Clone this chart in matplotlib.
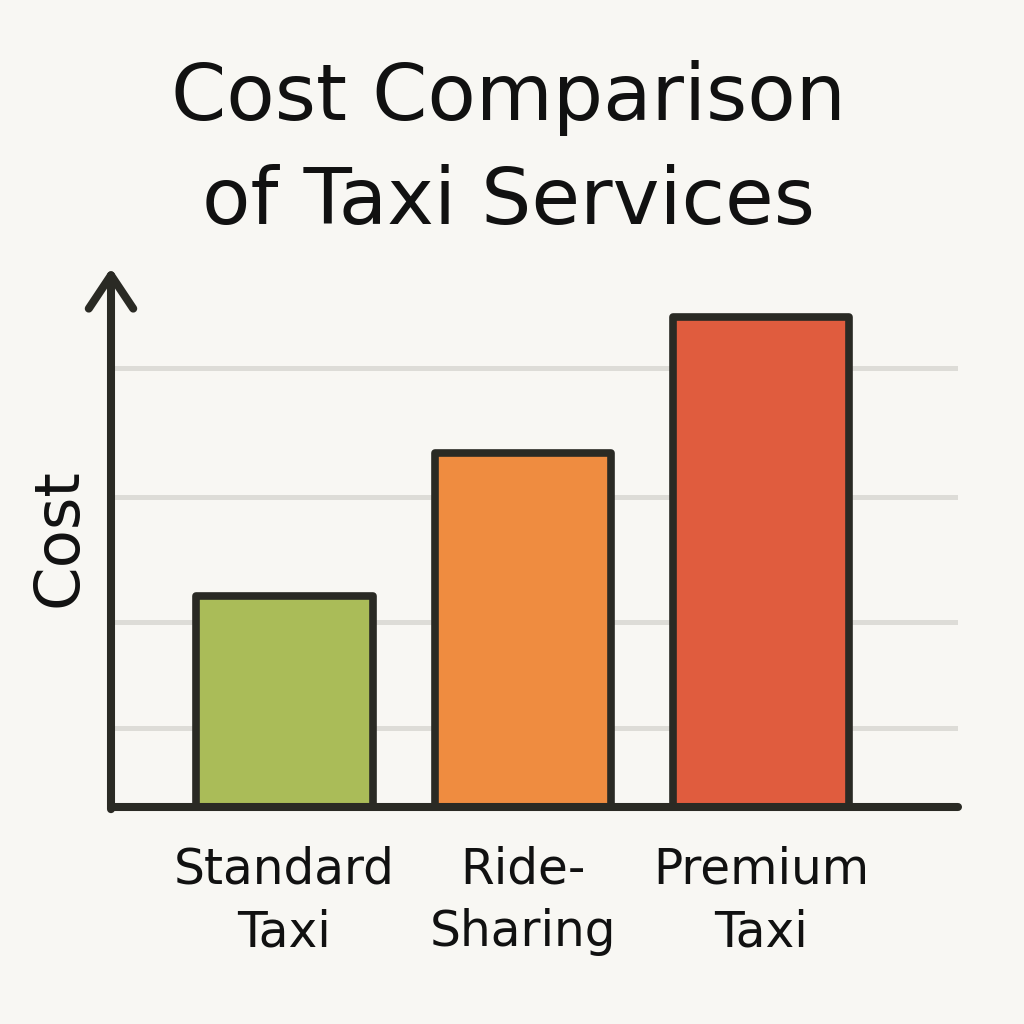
import matplotlib
matplotlib.use('Agg')
import matplotlib.pyplot as plt

# data (arbitrary cost units)
categories = ['Standard\nTaxi', 'Ride-\nSharing', 'Premium\nTaxi']
costs = [2.11, 3.54, 4.90]
grid_levels = [0.79, 1.85, 3.10, 4.39]
bar_colors = ['#aabc58', '#ef8c40', '#e05c3e']

bg = '#f8f7f3'
ink = '#2a2a24'

fig = plt.figure(figsize=(10.24, 10.24), dpi=100, facecolor=bg)
ax = fig.add_axes([111/1024, (1024-807)/1024, (958-111)/1024, (807-268)/1024])
ax.set_facecolor(bg)

x = range(len(categories))
ax.bar(x, costs, width=0.74, color=bar_colors, edgecolor=ink,
       linewidth=5.5, joinstyle='round', zorder=3)

ax.set_xlim(-0.728, 2.827)
ax.set_ylim(0, 5.39)

# gridlines, no numbers on the y axis
ax.set_yticks(grid_levels)
ax.set_yticklabels([])
ax.tick_params(axis='y', length=0)
ax.grid(axis='y', color='#dddcd7', linewidth=3.6, solid_capstyle='round', zorder=0)

ax.set_xticks(list(x))
ax.set_xticklabels(categories, fontsize=35, color='#111111', linespacing=1.38)
ax.tick_params(axis='x', length=0, pad=28)

# axis lines
for s in ['top', 'right', 'left']:
    ax.spines[s].set_visible(False)
ax.spines['bottom'].set_linewidth(5.8)
ax.spines['bottom'].set_color(ink)
ax.spines['bottom'].set_capstyle('round')
ax.spines['bottom'].set_zorder(4)

ax.annotate('', xy=(0, 1), xytext=(0, -0.004), xycoords='axes fraction',
            arrowprops=dict(arrowstyle='->,head_length=1.2,head_width=0.8',
                            lw=5.8, color=ink, mutation_scale=20,
                            capstyle='round', joinstyle='round',
                            shrinkA=0, shrinkB=0),
            annotation_clip=False, zorder=5)

ax.set_ylabel('Cost', fontsize=45, color='#111111', labelpad=12)

fig.text(0.497, 1 - 60/1024, 'Cost Comparison\nof Taxi Services',
         ha='center', va='top', fontsize=57, color='#111111', linespacing=1.46)

fig.savefig('out.png', dpi=100, facecolor=bg)
